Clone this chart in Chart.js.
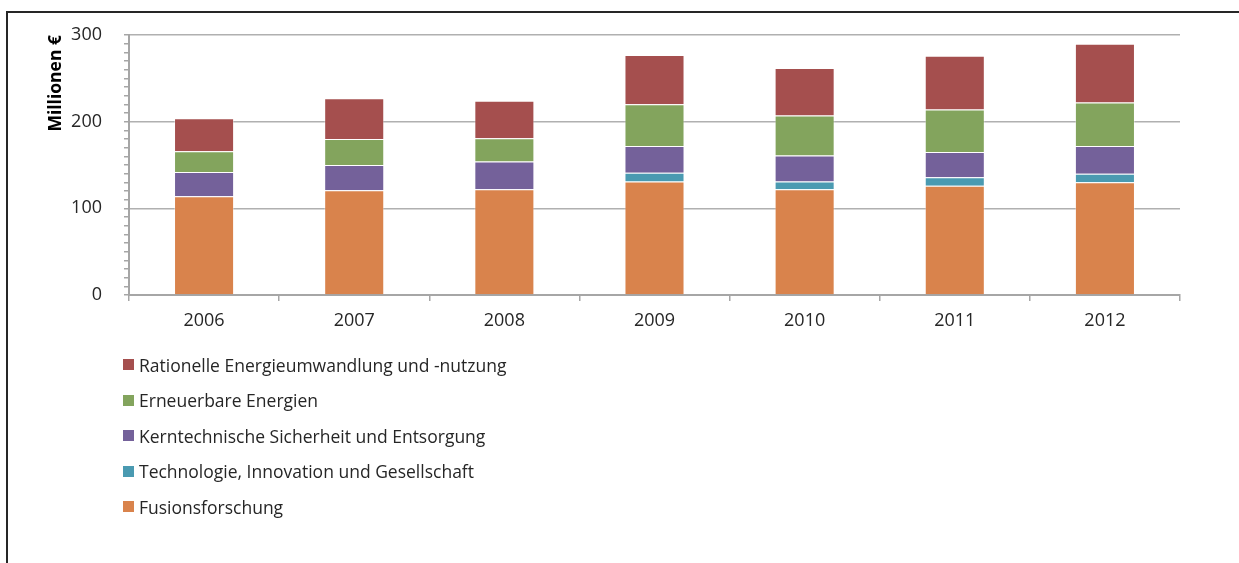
<!DOCTYPE html>
<html>
<head>
<meta charset="utf-8">
<script src="https://cdn.jsdelivr.net/npm/chart.js@4.4.1/dist/chart.umd.min.js"></script>
<style>
  body { margin: 0; background: #fff; }
  #wrap { position: relative; width: 1239px; height: 563px; overflow: hidden; }
  #chart { position: absolute; left: 0; top: 0; }
  .frame {
    position: absolute; left: 6px; top: 11px; width: 2000px; height: 2000px;
    border-top: 2px solid #262626; border-left: 2px solid #262626;
  }
  #legend {
    position: absolute; left: 123px; top: 347px; margin: 0; padding: 0; list-style: none;
    font-family: "Open Sans", sans-serif; font-size: 17.5px; color: #262626;
  }
  #legend li { height: 35.5px; display: flex; align-items: center; white-space: nowrap; }
  #legend .box { width: 11px; height: 11px; margin-right: 5px; flex: none; }
</style>
</head>
<body>
<div id="wrap">
  <div class="frame"></div>
  <canvas id="chart" width="1239" height="563"></canvas>
  <ul id="legend"></ul>
</div>
<script>
const years = ["2006", "2007", "2008", "2009", "2010", "2011", "2012"];

// Mio. € je Förderbereich, von unten nach oben gestapelt
const fusion = [114, 121, 122, 131, 122, 126, 130];
const technologie = [null, null, null, 10, 9, 10, 10];
const kerntechnik = [28, 29, 32, 31, 30, 29, 32];
const erneuerbar = [24, 30, 27, 48, 46, 49, 50];
const rationell = [38, 47, 43, 57, 55, 62, 68];

const seriesNames = [
  "Fusionsforschung",
  "Technologie, Innovation und Gesellschaft",
  "Kerntechnische Sicherheit und Entsorgung",
  "Erneuerbare Energien",
  "Rationelle Energieumwandlung und -nutzung"
];
const seriesColors = ["#D9834C", "#4A9AB1", "#74619A", "#83A45D", "#A54F4E"];
const yMajorTicks = [0, 100, 200, 300];

const textColor = "#262626";
const axisGray = "#A6A6A6";

Chart.defaults.font.family = '"Open Sans", sans-serif';
Chart.defaults.color = textColor;

const seriesData = [fusion, technologie, kerntechnik, erneuerbar, rationell];

const chart = new Chart(document.getElementById("chart"), {
  type: "bar",
  data: {
    labels: years,
    datasets: seriesData.map((d, i) => ({
      label: seriesNames[i],
      data: d,
      backgroundColor: seriesColors[i],
      borderColor: "rgba(255,255,255,0.35)",
      borderWidth: 1,
      barPercentage: 0.4,
      categoryPercentage: 1.0,
    })),
  },
  options: {
    responsive: false,
    animation: false,
    layout: { padding: { top: 35, right: 59, bottom: 228, left: 0 } },
    plugins: {
      legend: { display: false },
      tooltip: { enabled: false },
    },
    scales: {
      x: {
        stacked: true,
        offset: true,
        grid: {
          offset: true,
          drawOnChartArea: false,
          drawTicks: true,
          tickLength: 6,
          tickColor: axisGray,
          lineWidth: 1.5,
        },
        border: { color: axisGray, width: 2 },
        ticks: { font: { size: 18 }, padding: 9, color: textColor },
        afterFit: (scale) => { scale.height = 40; },
      },
      y: {
        stacked: true,
        min: 0,
        max: 300,
        grid: {
          color: (ctx) => yMajorTicks.includes(ctx.tick.value) ? "#B0B0B0" : "rgba(0,0,0,0)",
          tickColor: axisGray,
          tickLength: 5,
          lineWidth: 1.5,
        },
        border: { color: axisGray, width: 2 },
        ticks: {
          stepSize: 10,
          autoSkip: false,
          font: { size: 18 },
          padding: 22,
          color: textColor,
          callback: (v) => yMajorTicks.includes(v) ? String(v) : "",
        },
        title: {
          display: true,
          text: "Millionen €",
          align: "end",
          font: { size: 17.5, weight: "bold" },
          color: "#000",
          padding: { top: 46, bottom: 0 },
        },
        afterFit: (scale) => { scale.width = 129; },
      },
    },
  },
});

// Legende: oberste Stapelebene zuerst
const legendEl = document.getElementById("legend");
const items = Chart.defaults.plugins.legend.labels.generateLabels(chart).reverse();
items.forEach((item) => {
  const li = document.createElement("li");
  const box = document.createElement("span");
  box.className = "box";
  box.style.background = item.fillStyle;
  li.appendChild(box);
  li.appendChild(document.createTextNode(item.text));
  legendEl.appendChild(li);
});
</script>
</body>
</html>
